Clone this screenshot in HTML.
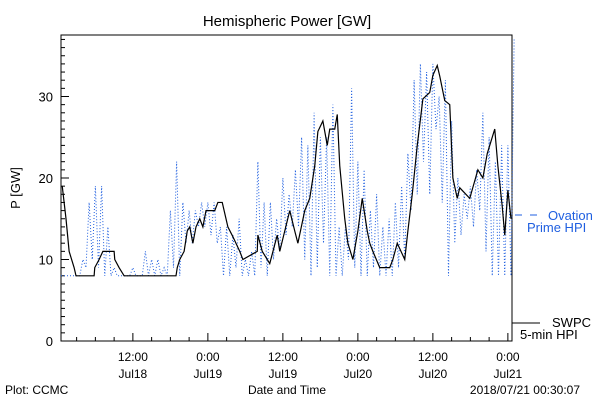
<!DOCTYPE html>
<html><head><meta charset="utf-8"><style>
body{margin:0;background:#fff;}
svg{display:block;font-family:"Liberation Sans",sans-serif;}
</style></head><body>
<svg id="chart" width="600" height="400">
<rect width="600" height="400" fill="#fff"/>
<text x="287" y="26" text-anchor="middle" font-size="15">Hemispheric Power [GW]</text>
<rect x="61" y="35" width="451" height="306" fill="none" stroke="#000" stroke-width="1"/>
<text transform="translate(20,188) rotate(-90)" text-anchor="middle" font-size="13">P [GW]</text>
<text x="287" y="394" text-anchor="middle" font-size="12">Date and Time</text>
<text x="5" y="394" font-size="12">Plot: CCMC</text>
<text x="580" y="394" text-anchor="end" font-size="12">2018/07/21 00:30:07</text>
<g id="yticks"></g><g id="xticks"></g><g id="series"></g>
<line x1="515" y1="215" x2="522" y2="215" stroke="#1f5fe0"/>
<line x1="530" y1="215" x2="537" y2="215" stroke="#1f5fe0"/>
<text x="548" y="220" fill="#1f5fe0" font-size="13">Ovation</text>
<text x="527" y="232" fill="#1f5fe0" font-size="13">Prime HPI</text>
<line x1="512" y1="323" x2="540" y2="323" stroke="#000"/>
<text x="552" y="327" font-size="13">SWPC</text>
<text x="520" y="339" font-size="13">5-min HPI</text>
</svg>
<script>
const yTickValues=[0,10,20,30];
const xTickHours=[11.5,23.5,35.5,47.5,59.5,71.5];
const xTickTimes=["12:00","0:00","12:00","0:00","12:00","0:00"];
const xTickDates=["Jul18","Jul19","Jul19","Jul20","Jul20","Jul21"];
const swpcHours=[0.2,0.8,1.3,2.1,2.4,5.3,5.4,6.1,6.7,8.5,8.6,9.3,10.1,18.4,18.6,19,19.7,20.2,20.6,21.1,21.6,22.2,22.7,23.2,23.8,24.6,25.1,25.8,26.7,27.5,28.6,29.1,31.4,31.5,32.2,33.4,34.6,35,36.6,37.4,37.9,39,39.8,40.6,41.1,41.9,42.6,43,43.8,44.2,44.6,45.4,45.9,46.7,47.5,48.2,49,49.4,49.9,51,52.6,53.1,53.8,55,55.5,56.2,57,57.9,59,59.5,60.2,60.6,61.4,62.2,62.7,63.4,63.8,65.4,66.7,67.5,68.2,69.4,69.9,70.6,71,71.5,72];
const swpcValues=[19,15,11,9,8,8,9,10,11,11,10,9,8,8,9,10,11,13.5,14,12,14,15,14,16,16,16,17,17,14,12.8,11,10,11,13,11,9.5,13,11,16,13.5,12,16,17.5,21.5,25.7,27,24,26,26,27.8,21.5,15,12,10,13.5,17.5,13.5,12,11,9,9,10,12,10,13.5,18,24,29.7,30.5,32.6,33.8,32.5,29.5,29,20,17.5,18.8,17.5,21,20,23,26,21.5,16.5,13,18.5,15];
const ovationLow=[8,8,8,8,9,10,9,8,8,8,8,8,8,8,8,8,8,8,9,8,12,12,14,14,13,12,8,8,9,8,8,8,9,8,10,11,13,14,14,10,8,9,12,8,8,8,10,9,8,8,9,8,8,8,9,10,16,18,22,18,26,17,8,12,13,15,14,16,11,8,8,8,8];
const ovationHigh=[8,8,8,10,17,19,19,14,9,8,8,9,8,11,10,10,9,16,22,17,16,16,17,17,17,14,14,13,15,10,11,22,17,17,15,20,18,21,25,24,28,25,25,29,14,14,31,22,21,16,18,14,15,17,19,23,32,34,33,34,30,32,27,20,18,19,21,28,25,22,24,24,37];
const NS="http://www.w3.org/2000/svg";
const X0=61,PXH=6.25,Y0=341,PXV=8.15;
const xs=h=>X0+PXH*h, ys=v=>Y0-PXV*v;
function mk(tag,attrs,parent){const e=document.createElementNS(NS,tag);for(const k in attrs)e.setAttribute(k,attrs[k]);parent.appendChild(e);return e;}
const yg=document.getElementById('yticks');
for(let v=0;v<=37;v++){const major=v%10===0;const t=mk('line',{x1:X0,x2:X0+(major?8:4),y1:ys(v),y2:ys(v),stroke:'#000'},yg);

}
yTickValues.forEach(v=>{const t=mk('text',{x:X0-8,y:ys(v)+5,'text-anchor':'end','font-size':'13'},yg);t.textContent=v;

});
const xg=document.getElementById('xticks');
for(let h=2.5;h<=72;h+=3){const major=((h-11.5)%12+12)%12===0;const t=mk('line',{x1:xs(h),x2:xs(h),y1:Y0,y2:Y0-(major?8:4),stroke:'#000'},xg);

}
xTickHours.forEach((h,i)=>{const a=mk('text',{x:xs(h),y:361,'text-anchor':'middle','font-size':'12'},xg);a.textContent=xTickTimes[i];


const b=mk('text',{x:xs(h),y:378,'text-anchor':'middle','font-size':'12'},xg);b.textContent=xTickDates[i];

});
const sg=document.getElementById('series');
let bp=[];ovationLow.forEach((lo,h)=>{bp.push(xs(h)+','+ys(lo));bp.push(xs(h+0.5)+','+ys(ovationHigh[h]));});
const bl=mk('polyline',{points:bp.join(' '),fill:'none',stroke:'#1f5fe0','stroke-width':1,'stroke-dasharray':'1,2'},sg);


let kp=swpcHours.map((h,i)=>xs(h)+','+ys(swpcValues[i]));
const kl=mk('polyline',{points:kp.join(' '),fill:'none',stroke:'#000','stroke-width':1.2},sg);


</script>
</body></html>
